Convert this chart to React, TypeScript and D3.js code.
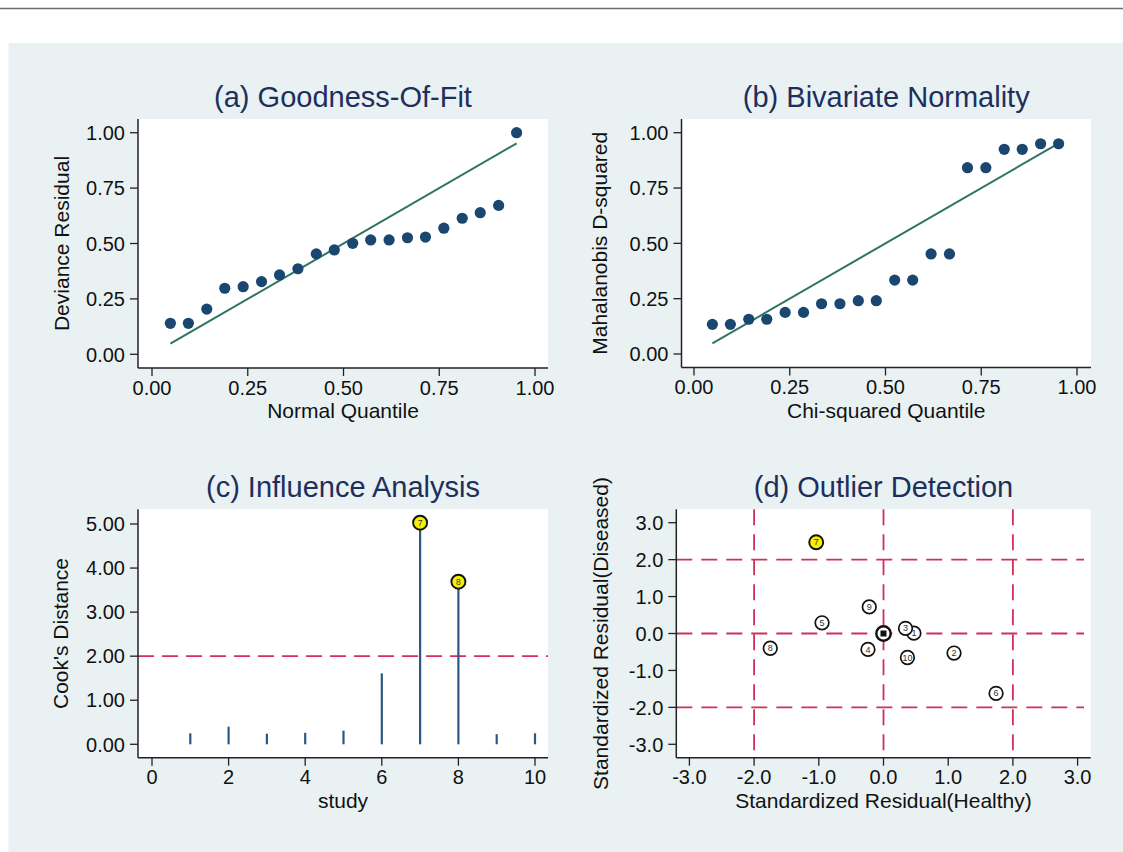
import React from "react";
import * as d3 from "d3";

// (a) goodness of fit
const normalQuantile = [0.048, 0.095, 0.143, 0.19, 0.238, 0.286, 0.333, 0.381, 0.429, 0.476, 0.524, 0.571, 0.619, 0.667, 0.714, 0.762, 0.81, 0.857, 0.905, 0.952];
const devianceResidual = [0.14, 0.14, 0.204, 0.298, 0.305, 0.328, 0.358, 0.386, 0.453, 0.471, 0.501, 0.516, 0.516, 0.526, 0.529, 0.569, 0.614, 0.639, 0.672, 1.0];

// (b) bivariate normality
const chiQuantile = [0.048, 0.095, 0.143, 0.19, 0.238, 0.286, 0.333, 0.381, 0.429, 0.476, 0.524, 0.571, 0.619, 0.667, 0.714, 0.762, 0.81, 0.857, 0.905, 0.952];
const mahalanobisD2 = [0.134, 0.134, 0.157, 0.157, 0.188, 0.188, 0.227, 0.227, 0.241, 0.241, 0.334, 0.334, 0.452, 0.452, 0.842, 0.842, 0.925, 0.925, 0.95, 0.95];

// reference line y = x between the first and last quantile
const refLine = [0.048, 0.952];

// (c) influence analysis
const studies = [1, 2, 3, 4, 5, 6, 7, 8, 9, 10];
const cooksDistance = [0.25, 0.4, 0.24, 0.26, 0.31, 1.61, 5.03, 3.69, 0.23, 0.25];
const cooksCutoff = 2;
const influential = [7, 8];

// (d) outlier detection
const residHealthy = [0.47, 1.09, 0.34, -0.24, -0.95, 1.74, -1.04, -1.75, -0.22, 0.37];
const residDiseased = [0.01, -0.53, 0.14, -0.43, 0.29, -1.62, 2.47, -0.4, 0.72, -0.65];
const outliers = [7];
const residCutoffs = [-2, 0, 2];
const centre = [0, 0];

const unitTicks = [0, 0.25, 0.5, 0.75, 1];
const studyTicks = [0, 2, 4, 6, 8, 10];
const cookTicks = [0, 1, 2, 3, 4, 5];
const residTicks = [-3, -2, -1, 0, 1, 2, 3];

const FONT = "'Liberation Sans', Arial, Helvetica, sans-serif";
const NAVY = "#1a476f";
const GREEN = "#2e7464";
const RED = "#d0305a";
const SPIKE = "#2b5886";
const YELLOW = "#f4f000";
const TITLE = "#1d2f5d";
const BG = "#e9f1f3";

const fmt2 = d3.format(".2f");
const fmtInt = d3.format("d");
// Stata prints a plain hyphen for negatives
const fmt1 = (t: number) => t.toFixed(1);

type Box = { left: number; right: number; top: number; bottom: number };

function Panel({ box, x, y, xTicks, yTicks, xFmt, yFmt, title, xLabel, yLabel, yLabelX, tickSize = 20, labelSize = 21, children }: any) {
  const b: Box = box;
  const cx = (b.left + b.right) / 2;
  const cy = (b.top + b.bottom) / 2;
  return (
    <g fontFamily={FONT}>
      <rect x={b.left} y={b.top} width={b.right - b.left} height={b.bottom - b.top} fill="#fff" />
      {children}
      <line x1={b.left} x2={b.left} y1={b.top} y2={b.bottom} stroke="#222" strokeWidth={1.5} />
      <line x1={b.left} x2={b.right} y1={b.bottom} y2={b.bottom} stroke="#222" strokeWidth={1.5} />
      {yTicks.map((t: number) => (
        <g key={"y" + t}>
          <line x1={b.left - 8} x2={b.left} y1={y(t)} y2={y(t)} stroke="#222" strokeWidth={1.3} />
          <text x={b.left - 13} y={y(t)} dy="0.36em" textAnchor="end" fontSize={tickSize} fill="#111">{yFmt(t)}</text>
        </g>
      ))}
      {xTicks.map((t: number) => (
        <g key={"x" + t}>
          <line x1={x(t)} x2={x(t)} y1={b.bottom} y2={b.bottom + 8} stroke="#222" strokeWidth={1.3} />
          <text x={x(t)} y={b.bottom + 26.5} textAnchor="middle" fontSize={tickSize} fill="#111">{xFmt(t)}</text>
        </g>
      ))}
      <text x={cx} y={b.top - 12.5} textAnchor="middle" fontSize={29} fill={TITLE}>{title}</text>
      <text x={cx} y={b.bottom + 50} textAnchor="middle" fontSize={labelSize} fill="#111">{xLabel}</text>
      <text transform={`translate(${yLabelX},${cy}) rotate(-90)`} textAnchor="middle" fontSize={labelSize} fill="#111">{yLabel}</text>
    </g>
  );
}

function QQPanel({ box, xs, ys, x, y, title, xLabel, yLabel, yLabelX }: any) {
  return (
    <Panel box={box} x={x} y={y} xTicks={unitTicks} yTicks={unitTicks} xFmt={fmt2} yFmt={fmt2}
      title={title} xLabel={xLabel} yLabel={yLabel} yLabelX={yLabelX}>
      <line x1={x(refLine[0])} y1={y(refLine[0])} x2={x(refLine[1])} y2={y(refLine[1])} stroke={GREEN} strokeWidth={2} />
      {xs.map((v: number, i: number) => (
        <circle key={i} cx={x(v)} cy={y(ys[i])} r={5.6} fill={NAVY} />
      ))}
    </Panel>
  );
}

export default function App() {
  const boxA = { left: 138, right: 548, top: 119, bottom: 368 };
  const xA = d3.scaleLinear().domain([0, 1]).range([152, 535]);
  const yA = d3.scaleLinear().domain([0, 1]).range([354.3, 132.7]);

  const boxB = { left: 681.5, right: 1091, top: 119, bottom: 367.5 };
  const xB = d3.scaleLinear().domain([0, 1]).range([694, 1077]);
  const yB = d3.scaleLinear().domain([0, 1]).range([354, 132.7]);

  const boxC = { left: 138, right: 548, top: 509.3, bottom: 757.7 };
  const xC = d3.scaleLinear().domain([0, 10]).range([152, 535]);
  const yC = d3.scaleLinear().domain([0, 5]).range([744.3, 524]);

  const boxD = { left: 676.3, right: 1090.7, top: 509.3, bottom: 757.7 };
  const xD = d3.scaleLinear().domain([-3, 3]).range([689.4, 1077.6]);
  const yD = d3.scaleLinear().domain([-3, 3]).range([744.3, 522.7]);

  return (
    <svg width={1123} height={852} style={{ position: "absolute", left: 0, top: 0, background: "#fff" }}>
      <line x1={0} x2={1123} y1={8.5} y2={8.5} stroke="#6e6e6e" strokeWidth={1.4} />
      <rect x={8.5} y={43} width={1123 - 8.5} height={852 - 43} fill={BG} />

      <QQPanel box={boxA} xs={normalQuantile} ys={devianceResidual} x={xA} y={yA}
        title="(a) Goodness-Of-Fit" xLabel="Normal Quantile" yLabel="Deviance Residual" yLabelX={68.5} />

      <QQPanel box={boxB} xs={chiQuantile} ys={mahalanobisD2} x={xB} y={yB}
        title="(b) Bivariate Normality" xLabel="Chi-squared Quantile" yLabel="Mahalanobis D-squared" yLabelX={607} />

      <Panel box={boxC} x={xC} y={yC} xTicks={studyTicks} yTicks={cookTicks} xFmt={fmtInt} yFmt={fmt2}
        title="(c) Influence Analysis" xLabel="study" yLabel="Cook's Distance" yLabelX={68}>
        <line x1={boxC.left} x2={boxC.right} y1={yC(cooksCutoff)} y2={yC(cooksCutoff)} stroke={RED} strokeWidth={1.8} strokeDasharray="16 8" />
        {studies.map((s, i) => (
          <line key={s} x1={xC(s)} x2={xC(s)} y1={yC(0)} y2={yC(cooksDistance[i])} stroke={SPIKE} strokeWidth={2.2} />
        ))}
        {studies.filter((s) => influential.includes(s)).map((s) => (
          <g key={"m" + s}>
            <circle cx={xC(s)} cy={yC(cooksDistance[s - 1])} r={7} fill={YELLOW} stroke="#111" strokeWidth={1.9} />
            <text x={xC(s)} y={yC(cooksDistance[s - 1])} dy="0.35em" textAnchor="middle" fontSize={8.5} fill="#333">{s}</text>
          </g>
        ))}
      </Panel>

      <Panel box={boxD} x={xD} y={yD} xTicks={residTicks} yTicks={[...residTicks].reverse()} xFmt={fmt1} yFmt={fmt1}
        title="(d) Outlier Detection" xLabel="Standardized Residual(Healthy)" yLabel="Standardized Residual(Diseased)" yLabelX={608}>
        {residCutoffs.map((c) => (
          <line key={"h" + c} x1={boxD.left} x2={1084} y1={yD(c)} y2={yD(c)} stroke={RED} strokeWidth={1.8} strokeDasharray="16 9" />
        ))}
        {residCutoffs.map((c) => (
          <line key={"v" + c} x1={xD(c)} x2={xD(c)} y1={boxD.top} y2={boxD.bottom} stroke={RED} strokeWidth={1.8} strokeDasharray="16 9" />
        ))}
        <circle cx={xD(centre[0])} cy={yD(centre[1])} r={7.2} fill="#fff" stroke="#111" strokeWidth={2.4} />
        <rect x={xD(centre[0]) - 3} y={yD(centre[1]) - 3} width={6} height={6} fill="#111" />
        {studies.map((s, i) => {
          const hi = outliers.includes(s);
          return (
            <g key={"p" + s}>
              <circle cx={xD(residHealthy[i])} cy={yD(residDiseased[i])} r={hi ? 7 : 6.8} fill={hi ? YELLOW : "#fff"} stroke="#111" strokeWidth={hi ? 1.9 : 1.7} />
              <text x={xD(residHealthy[i])} y={yD(residDiseased[i])} dy="0.35em" textAnchor="middle" fontSize={9} fill="#333">{s}</text>
            </g>
          );
        })}
      </Panel>
    </svg>
  );
}
